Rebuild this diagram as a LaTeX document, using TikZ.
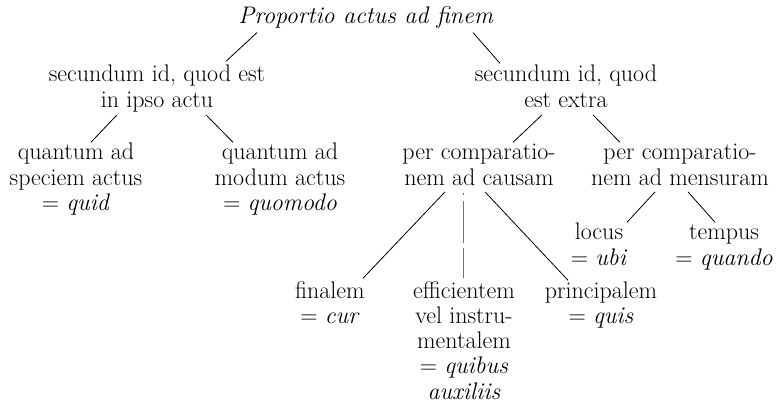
\documentclass[tikz,border=0pt]{standalone}
\usetikzlibrary{calc}
\newcommand{\mlines}[1]{\begin{tabular}[t]{@{}c@{}}#1\end{tabular}}
\begin{document}
\begin{tikzpicture}[x=1pt,y=-1pt,
  lbl/.style={anchor=base,inner sep=0pt,outer sep=0pt,font=\fontsize{24}{25.3}\selectfont},
  conn/.style={line width=0.8pt,black},
  faint/.style={line width=0.9pt,black!55,dash pattern=on 2pt off 6pt on 42pt off 5pt on 40pt}]
\fill[white] (0,0) rectangle (781,403);
\useasboundingbox (0,0) rectangle (781,403);
\node[lbl] (top) at (366,24) {\mlines{\textit{Proportio actus ad finem}}};
\node[lbl] (L) at (157,82) {\mlines{secundum id, quod est\\in ipso actu}};
\node[lbl] (R) at (566,82) {\mlines{secundum id, quod\\est extra}};
\node[lbl] (LL) at (76,160) {\mlines{quantum ad\\speciem actus\\= \textit{quid}}};
\node[lbl] (LR) at (280,160) {\mlines{quantum ad\\modum actus\\= \textit{quomodo}}};
\node[lbl] (RL) at (479,160) {\mlines{per comparatio-\\nem ad causam}};
\node[lbl] (RR) at (680,160) {\mlines{per comparatio-\\nem ad mensuram}};
\node[lbl] (loc) at (599,240) {\mlines{locus\\= \textit{ubi}}};
\node[lbl] (tem) at (724,240) {\mlines{tempus\\= \textit{quando}}};
\node[lbl] (fin) at (330,298) {\mlines{finalem\\= \textit{cur}}};
\node[lbl] (eff) at (464,298) {\mlines{efficientem\\vel instru-\\mentalem\\= \textit{quibus}\\\textit{auxiliis}}};
\node[lbl] (pri) at (601,298) {\mlines{principalem\\= \textit{quis}}};
\draw[conn] ([xshift=-109pt,yshift=-1pt]top.south) -- ([xshift=69pt,yshift=3pt]L.north);
\draw[conn] ([xshift=107pt,yshift=-1pt]top.south) -- ([xshift=-66pt,yshift=1pt]R.north);
\draw[conn] ([xshift=-40pt]L.south) -- ([xshift=15pt]LL.north);
\draw[conn] ([xshift=49pt]L.south) -- ([xshift=-47pt]LR.north);
\draw[conn] ([xshift=-24pt]R.south) -- ([xshift=34pt]RL.north);
\draw[conn] ([xshift=27pt]R.south) -- ([xshift=-60pt]RR.north);
\draw[conn] ([xshift=-34pt,yshift=1pt]RL.south) -- ([xshift=33pt,yshift=2pt]fin.north);
\draw[faint] ([xshift=-16pt]RL.south) -- ([xshift=-1pt,yshift=2pt]eff.north);
\draw[conn] ([xshift=6pt,yshift=1pt]RL.south) -- ([xshift=-33pt]pri.north);
\draw[conn] ([xshift=-25pt,yshift=1pt]RR.south) -- ([xshift=28pt]loc.north);
\draw[conn] ([xshift=8pt,yshift=1pt]RR.south) -- ([xshift=-9pt]tem.north);
\end{tikzpicture}
\end{document}
